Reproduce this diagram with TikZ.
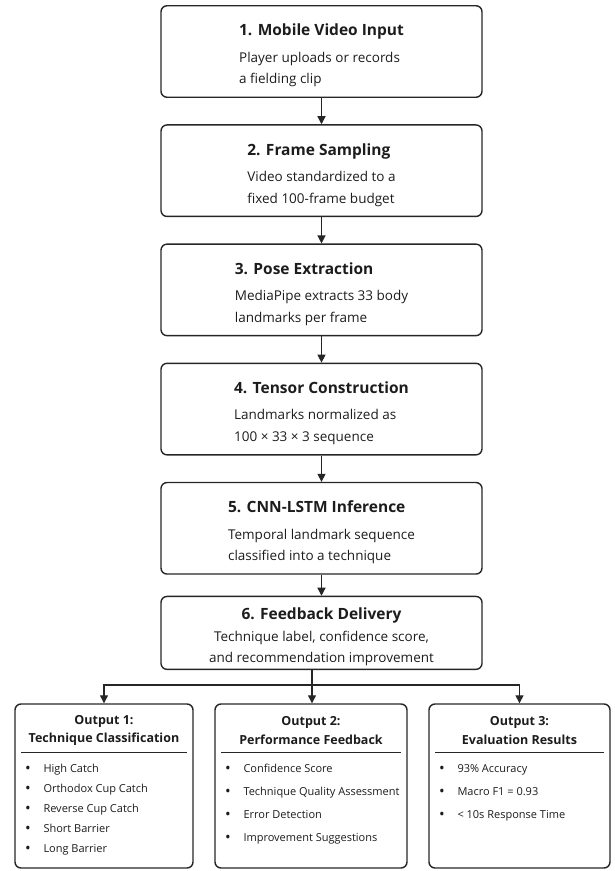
\documentclass[tikz,border=0pt]{standalone}
\usepackage{fontspec}
\setmainfont{Open Sans}
\usepackage{tikz}
\usetikzlibrary{arrows.meta}
\usetikzlibrary{positioning}

\definecolor{inkcol}{HTML}{1C1C1C}
\definecolor{linecol}{HTML}{262626}
\newcommand{\stitle}[1]{{\fontsize{15.5}{18}\selectfont\bfseries\rule{0pt}{20pt}#1}}
\newcommand{\bul}{\makebox[18pt][l]{\hspace{-0.5pt}\raisebox{-1pt}{\fontsize{15}{15}\selectfont\textbullet}}}

\begin{document}
\begin{tikzpicture}[x=1pt,y=1pt,
				every node/.style={text=inkcol},
				stepbox/.style={rectangle,rounded corners=6pt,draw=linecol,line width=1.4pt,minimum width=321pt,minimum height=91.5pt,align=left,font=\fontsize{13.5}{21.5}\selectfont},
				feedbox/.style={stepbox,align=center,minimum height=72.6pt,font=\fontsize{13.5}{21}\selectfont},
				outbox/.style={rectangle,rounded corners=6pt,draw=linecol,line width=1.4pt,minimum height=164pt},
				outhead/.style={align=center,font=\fontsize{12.5}{18.5}\selectfont\bfseries,inner sep=0pt},
				outlist/.style={align=left,anchor=north west,inner sep=0pt,font=\fontsize{11}{#1}\selectfont},
				divider/.style={draw=linecol,line width=1.1pt},
				flow/.style={draw=linecol,line width=1.3pt,-{Triangle[width=8pt,length=8pt]}}
				]
				\useasboundingbox (0,0) rectangle (615,871);
				% pipeline
				\node (mvi) [stepbox] at (321.5,819.5) {\stitle{1. Mobile Video Input}\\[5pt] Player uploads or records\\ a fielding clip};
				\node (fsm) [stepbox, below=26.3pt of mvi] {\stitle{2. Frame Sampling}\\[5pt] Video standardized to a\\ fixed 100-frame budget};
				\node (pex) [stepbox, below=26.3pt of fsm] {\stitle{3. Pose Extraction}\\[5pt] MediaPipe extracts 33 body\\ landmarks per frame};
				\node (tco) [stepbox, below=26.3pt of pex] {\stitle{4. Tensor Construction}\\[5pt] Landmarks normalized as\\ 100 × 33 × 3 sequence};
				\node (inf) [stepbox, below=26.3pt of tco] {\stitle{5. CNN-LSTM Inference}\\[5pt] Temporal landmark sequence\\ classified into a technique};
				\node (fbd) [feedbox, below=21pt of inf] {\stitle{6. Feedback Delivery}\\[1pt] Technique label, confidence score,\\ and recommendation improvement};
				\draw [flow] (mvi) -- (fsm);
				\draw [flow] (fsm) -- (pex);
				\draw [flow] (pex) -- (tco);
				\draw [flow] (tco) -- (inf);
				\draw [flow] (inf) -- (fbd);
				% outputs
				\node (o1) [outbox, minimum width=178pt] at (104,85) {};
				\node (o2) [outbox, minimum width=192pt] at (311,85) {};
				\node (o3) [outbox, minimum width=181pt] at (519.5,85) {};
				\coordinate (split) at (312,186);
				\draw [flow] (fbd.south -| split) -- (o2.north -| split);
				\draw [flow] (split) -| (o1.north);
				\draw [flow] (split) -| (o3.north);
				\node (o1h) [outhead] at ([yshift=-27pt]o1.north) {Output 1:\\Technique Classification};
				\node (o2h) [outhead] at ([yshift=-27pt]o2.north) {Output 2:\\Performance Feedback};
				\node (o3h) [outhead] at ([yshift=-27pt]o3.north) {Output 3:\\Evaluation Results};
				\draw [divider] ([xshift=7pt,yshift=-49pt]o1.north west) -- ([xshift=-7pt,yshift=-49pt]o1.north east);
				\draw [divider] ([xshift=7pt,yshift=-49pt]o2.north west) -- ([xshift=-7pt,yshift=-49pt]o2.north east);
				\draw [divider] ([xshift=7pt,yshift=-49pt]o3.north west) -- ([xshift=-7pt,yshift=-49pt]o3.north east);
				\node (o1l) [outlist=20pt] at ([xshift=11pt,yshift=-61pt]o1.north west) {\bul High Catch\\ \bul Orthodox Cup Catch\\ \bul Reverse Cup Catch\\ \bul Short Barrier\\ \bul Long Barrier};
				\node (o2l) [outlist=23pt] at ([xshift=11pt,yshift=-61pt]o2.north west) {\bul Confidence Score\\ \bul Technique Quality Assessment\\ \bul Error Detection\\ \bul Improvement Suggestions};
				\node (o3l) [outlist=23pt] at ([xshift=11pt,yshift=-61pt]o3.north west) {\bul 93\% Accuracy\\ \bul Macro F1 = 0.93\\ \bul < 10s Response Time};
\end{tikzpicture}
\end{document}
